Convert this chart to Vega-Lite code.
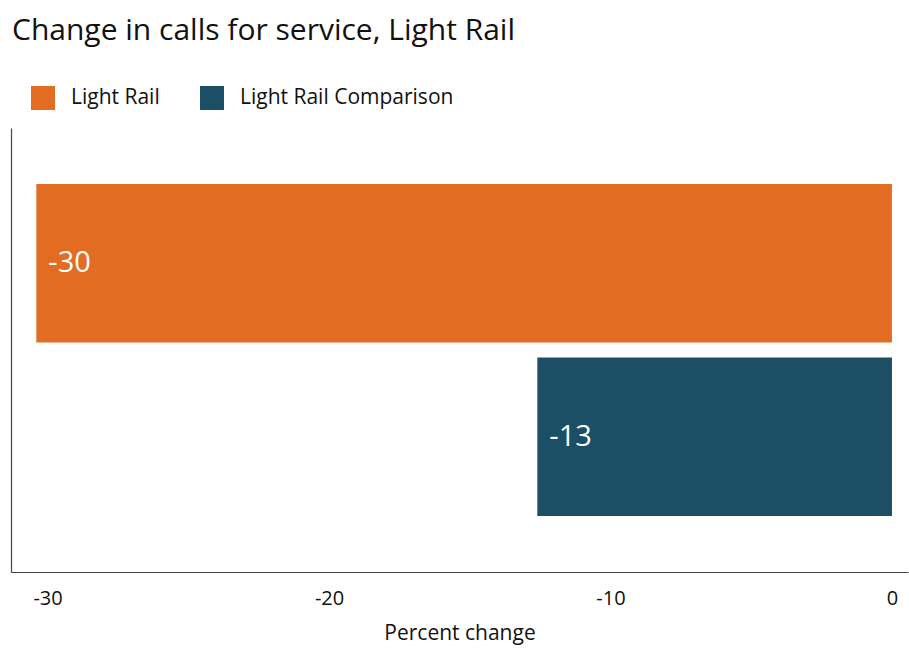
{
  "$schema": "https://vega.github.io/schema/vega-lite/v6.json",
  "width": 897,
  "height": 444,
  "autosize": {"type": "none"},
  "padding": {"left": 11, "top": 128, "right": 1, "bottom": 78},
  "background": "white",
  "title": {
    "text": "Change in calls for service, Light Rail",
    "anchor": "start",
    "font": "Open Sans",
    "fontSize": 30,
    "fontWeight": "normal",
    "color": "#111111",
    "baseline": "alphabetic",
    "offset": 16,
    "dx": 1
  },
  "config": {
    "view": {"stroke": null},
    "font": "Open Sans",
    "locale": {
      "number": {"decimal": ".", "thousands": ",", "grouping": [3], "currency": ["$", ""], "minus": "-"}
    }
  },
  "data": {
    "values": [
      {"group": "Light Rail", "value": -30.4},
      {"group": "Light Rail Comparison", "value": -12.6}
    ]
  },
  "encoding": {
    "y": {
      "field": "group",
      "type": "nominal",
      "sort": null,
      "scale": {"paddingInner": 0.086, "paddingOuter": 0.322},
      "axis": {"title": null, "labels": false, "ticks": false, "domainColor": "#444444", "domainWidth": 1.2}
    },
    "x": {
      "field": "value",
      "type": "quantitative",
      "scale": {"domain": [-31.3, 0.57], "nice": false, "zero": false},
      "axis": {
        "title": "Percent change",
        "titleFont": "Open Sans",
        "titleFontSize": 21,
        "titleFontWeight": "normal",
        "titleColor": "#111111",
        "titlePadding": 14,
        "values": [-30, -20, -10, 0],
        "labelFont": "Open Sans",
        "labelFontSize": 20,
        "labelColor": "#111111",
        "labelPadding": 16,
        "ticks": false,
        "grid": false,
        "domainColor": "#444444",
        "domainWidth": 1.2
      }
    }
  },
  "layer": [
    {
      "mark": {"type": "bar"},
      "encoding": {
        "x2": {"datum": 0},
        "color": {
          "field": "group",
          "type": "nominal",
          "scale": {"domain": ["Light Rail", "Light Rail Comparison"], "range": ["#E36C23", "#1C4F66"]},
          "legend": {
            "title": null,
            "orient": "none",
            "legendX": 20,
            "legendY": -42,
            "direction": "horizontal",
            "symbolType": "square",
            "symbolSize": 576,
            "symbolStrokeWidth": 0,
            "labelFont": "Open Sans",
            "labelFontSize": 21,
            "labelColor": "#111111",
            "labelOffset": 16,
            "labelLimit": 400,
            "columnPadding": 40
          }
        }
      }
    },
    {
      "mark": {"type": "text", "align": "left", "baseline": "middle", "dx": 12, "color": "white", "fontSize": 29, "font": "Open Sans"},
      "encoding": {
        "text": {"field": "value", "type": "quantitative", "format": ".0f"}
      }
    }
  ]
}
